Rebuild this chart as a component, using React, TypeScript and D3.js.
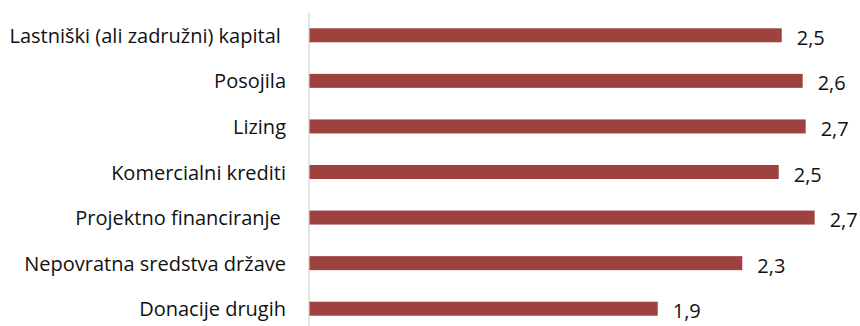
import React from "react";
import * as d3 from "d3";

const categories = [
  "Lastniški (ali zadružni) kapital ",
  "Posojila",
  "Lizing",
  "Komercialni krediti",
  "Projektno financiranje ",
  "Nepovratna sredstva države",
  "Donacije drugih",
];
const values = [2.528, 2.64, 2.656, 2.512, 2.704, 2.317, 1.865];
const labels = ["2,5", "2,6", "2,7", "2,5", "2,7", "2,3", "1,9"];

const W = 860;
const H = 326;
const FONT = "'Open Sans', 'Noto Sans', sans-serif";

export default function App() {
  const x = d3.scaleLinear().domain([0, 3]).range([309, 870]);
  const y = d3
    .scaleBand<string>()
    .domain(categories)
    .range([12.5, 331.5])
    .paddingInner(0.693)
    .paddingOuter(0.3465);
  const bw = y.bandwidth();
  return (
    <svg width={W} height={H} style={{ position: "absolute", left: 0, top: 0, background: "#fff" }}>
      <line x1={309} x2={309} y1={13} y2={326} stroke="#d9d9d9" strokeWidth={1.5} />
      {categories.map((c, i) => {
        const yc = (y(c) as number) + bw / 2;
        return (
          <g key={c}>
            <rect x={x(0) + 0.5} y={y(c)} width={x(values[i]) - x(0) - 0.5} height={bw} fill="#9e4240" />
            <text
              x={286}
              y={yc}
              textAnchor="end"
              dominantBaseline="central"
              fontFamily={FONT}
              fontSize={20}
              fill="#111"
              style={{ whiteSpace: "pre" }}
            >
              {c}
            </text>
            <text
              x={x(values[i]) + 15}
              y={yc + 2}
              dominantBaseline="central"
              fontFamily={FONT}
              fontSize={20}
              fill="#111"
            >
              {labels[i]}
            </text>
          </g>
        );
      })}
    </svg>
  );
}
